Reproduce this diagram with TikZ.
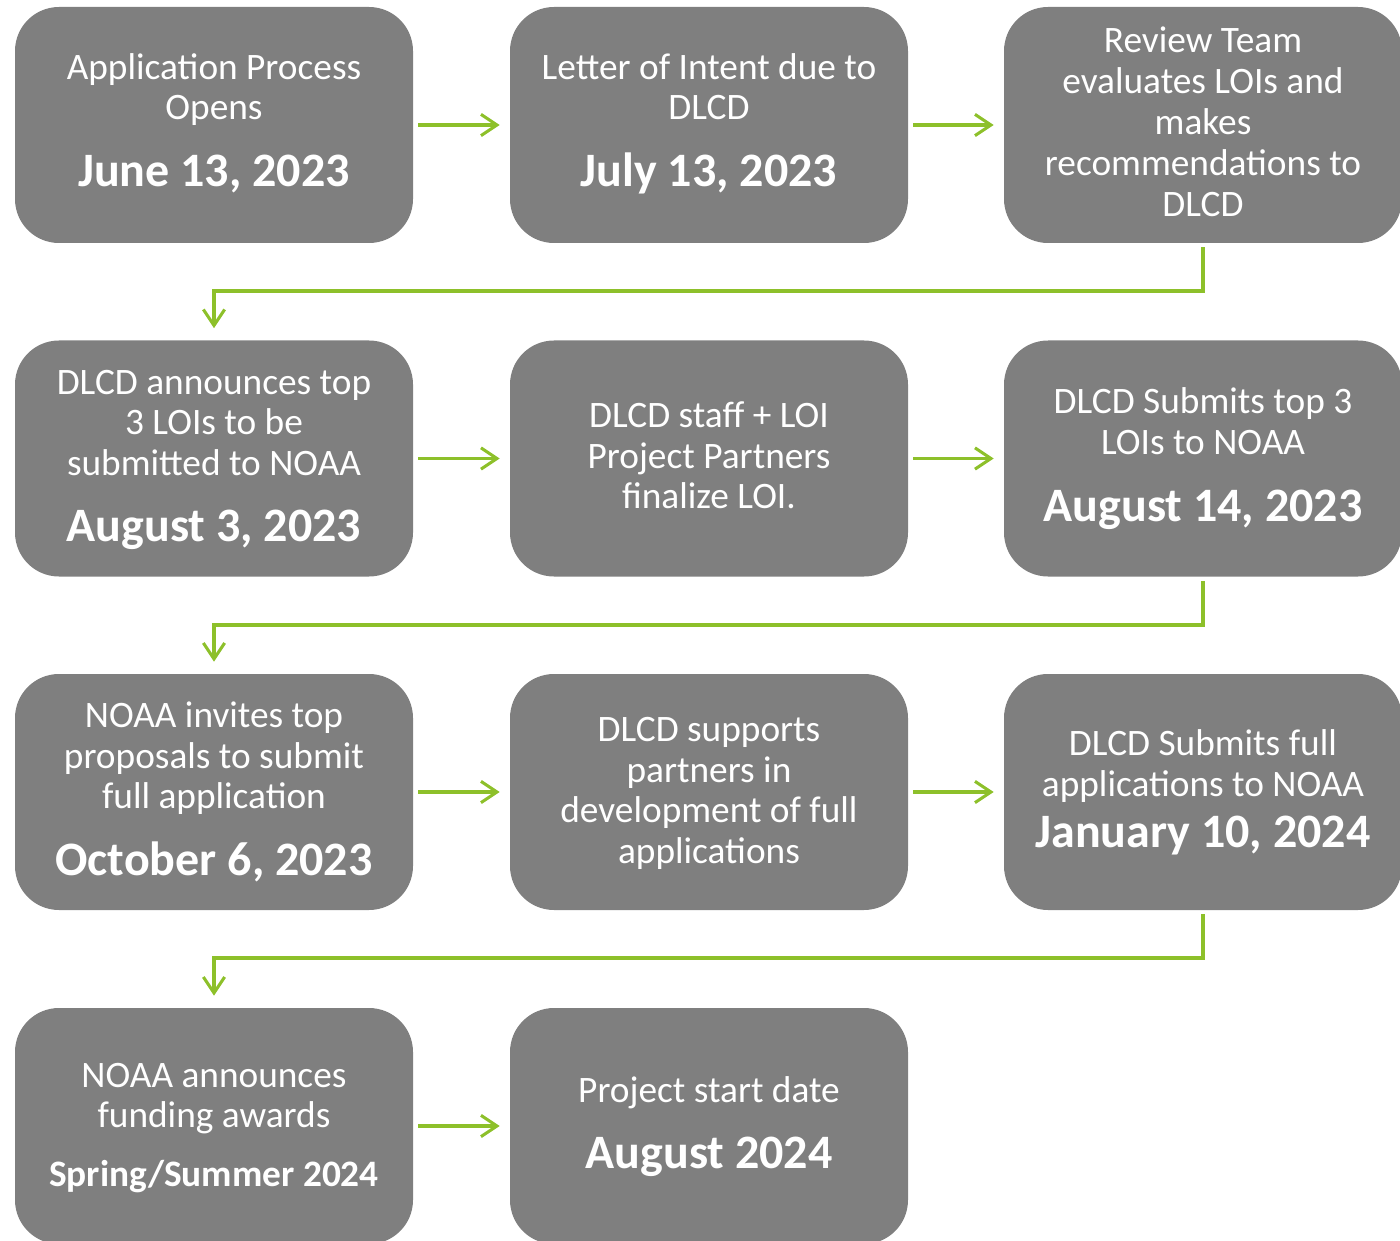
\documentclass[tikz,border=0pt]{standalone}
\usepackage{fontspec}
\setmainfont{Carlito}
\usetikzlibrary{arrows.meta}
\definecolor{boxgray}{HTML}{7F7F7F}
\definecolor{arrgreen}{HTML}{8DC02A}
\tikzset{
  box/.style={fill=boxgray, draw=none, rounded corners=33pt, minimum width=298.5pt, minimum height=177pt, inner sep=0pt},
  reg/.style={anchor=base, text=white, font=\fontsize{28}{32}\selectfont, inner sep=0pt},
  big/.style={anchor=base, text=white, font=\fontsize{36}{40}\bfseries\selectfont, inner sep=0pt},
  mid/.style={anchor=base, text=white, font=\fontsize{28}{32}\bfseries\selectfont, inner sep=0pt},
  conn/.style={draw=arrgreen, line width=2.3pt, -{Straight Barb[length=12pt, width=16pt, line width=2.3pt]}},
}
\begin{document}
\begin{tikzpicture}[x=0.75pt, y=-0.75pt]
\useasboundingbox (0,0) rectangle (1400,1241);
\clip (0,0) rectangle (1400,1241);
% boxes
\node[box] (b1) at (214,125) {};
\node[box] (b2) at (709,125) {};
\node[box] (b3) at (1203,125) {};
\node[box] (b4) at (214,458.5) {};
\node[box] (b5) at (709,458.5) {};
\node[box] (b6) at (1203,458.5) {};
\node[box] (b7) at (214,792) {};
\node[box] (b8) at (709,792) {};
\node[box] (b9) at (1203,792) {};
\node[box] (b10) at (214,1126) {};
\node[box] (b11) at (709,1126) {};
% texts box 1
\node[reg] (t1a) at (214,80) {Application Process};
\node[reg] (t1b) at (214,120) {Opens};
\node[big] (d1) at (214,187) {June 13, 2023};
% box 2
\node[reg] (t2a) at (709,80) {Letter of Intent due to};
\node[reg] (t2b) at (709,120) {DLCD};
\node[big] (d2) at (709,187) {July 13, 2023};
% box 3
\node[reg] (t3a) at (1203,53) {Review Team};
\node[reg] (t3b) at (1203,94) {evaluates LOIs and};
\node[reg] (t3c) at (1203,135) {makes};
\node[reg] (t3d) at (1203,176) {recommendations to};
\node[reg] (t3e) at (1203,217) {DLCD};
% box 4
\node[reg] (t4a) at (214,394) {DLCD announces top};
\node[reg] (t4b) at (214,434) {3 LOIs to be};
\node[reg] (t4c) at (214,475) {submitted to NOAA};
\node[big] (d4) at (214,541) {August 3, 2023};
% box 5
\node[reg] (t5a) at (709,427) {DLCD staff + LOI};
\node[reg] (t5b) at (709,468) {Project Partners};
\node[reg] (t5c) at (709,508) {finalize LOI.};
% box 6
\node[reg] (t6a) at (1203,413) {DLCD Submits top 3};
\node[reg] (t6b) at (1203,454) {LOIs to NOAA};
\node[big] (d6) at (1203,521) {August 14, 2023};
% box 7
\node[reg] (t7a) at (214,727) {NOAA invites top};
\node[reg] (t7b) at (214,768) {proposals to submit};
\node[reg] (t7c) at (214,808) {full application};
\node[big] (d7) at (214,875) {October 6, 2023};
% box 8
\node[reg] (t8a) at (709,741) {DLCD supports};
\node[reg] (t8b) at (709,782) {partners in};
\node[reg] (t8c) at (709,822) {development of full};
\node[reg] (t8d) at (709,863) {applications};
% box 9
\node[reg] (t9a) at (1203,755) {DLCD Submits full};
\node[reg] (t9b) at (1203,796) {applications to NOAA};
\node[big] (d9) at (1203,847) {January 10, 2024};
% box 10
\node[reg] (t10a) at (214,1087) {NOAA announces};
\node[reg] (t10b) at (214,1127) {funding awards};
\node[mid] (d10) at (214,1186) {Spring/Summer 2024};
% box 11
\node[reg] (t11a) at (709,1102) {Project start date};
\node[big] (d11) at (709,1168) {August 2024};
% horizontal connectors
\foreach \a/\b in {b1/b2,b2/b3,b4/b5,b5/b6,b7/b8,b8/b9,b10/b11}{
  \draw[conn, shorten <=3.75pt, shorten >=7.5pt] (\a.east) -- (\b.west);
}
% elbow connectors
\coordinate (e1) at (1203,291);
\coordinate (e2) at (1203,625);
\coordinate (e3) at (1203,958);
\draw[conn, shorten <=3pt, shorten >=9pt] (b3.south) -- (e1) -| (b4.north);
\draw[conn, shorten <=3pt, shorten >=9pt] (b6.south) -- (e2) -| (b7.north);
\draw[conn, shorten <=3pt, shorten >=9pt] (b9.south) -- (e3) -| (b10.north);
\end{tikzpicture}
\end{document}
